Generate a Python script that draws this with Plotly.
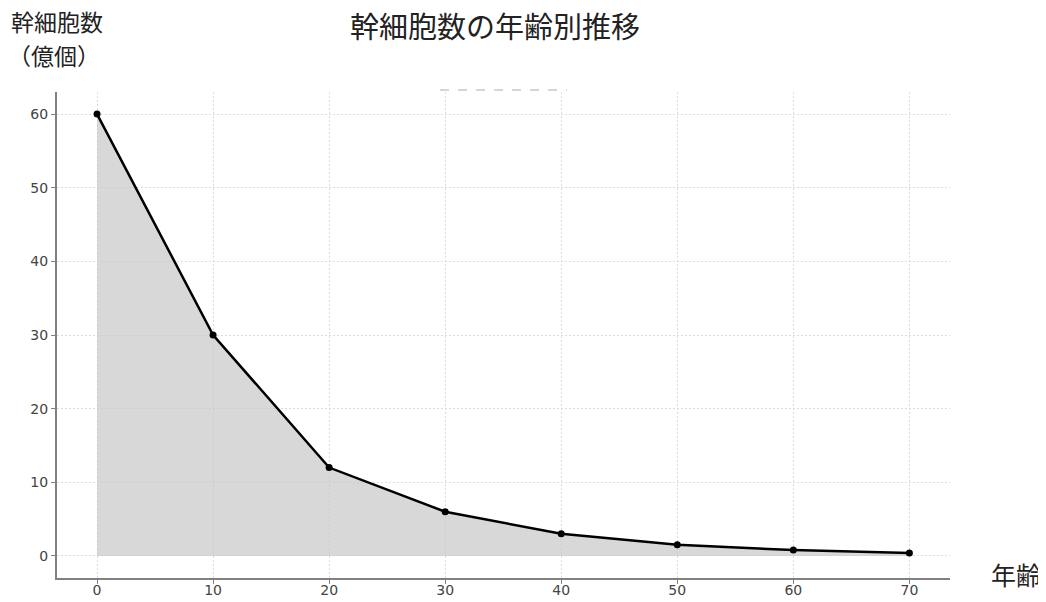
import plotly.graph_objects as go

# 年齢別の幹細胞数（億個）
ages = [0, 10, 20, 30, 40, 50, 60, 70]
stem_cells = [60, 30, 12, 6, 3, 1.5, 0.8, 0.4]
x_ticks = [0, 10, 20, 30, 40, 50, 60, 70]
y_ticks = [0, 10, 20, 30, 40, 50, 60]

JP_FONT = "Noto Sans CJK JP"

fig = go.Figure()
fig.add_trace(go.Scatter(
    x=ages, y=stem_cells,
    mode="lines+markers",
    fill="tozeroy",
    fillcolor="rgba(200,200,200,0.7)",
    line=dict(color="black", width=2.5),
    marker=dict(color="black", size=7),
    showlegend=False,
))

axis_common = dict(
    showgrid=True, gridcolor="#dcdcdc", griddash="2px,2px", gridwidth=1,
    showline=True, linecolor="#808080", linewidth=2,
    ticks="outside", ticklen=4, tickcolor="#808080",
    tickfont=dict(family="DejaVu Sans", size=14, color="#444444"),
    zeroline=False, automargin=False,
)

fig.update_xaxes(range=[-3.45, 73.5], tickvals=x_ticks, ticklabelstandoff=-6, **axis_common)
fig.update_yaxes(range=[-3.0, 63.0], tickvals=y_ticks, **axis_common)

label_font = dict(family=JP_FONT, size=23, color="#222222")

# the page body adds an 8px offset, so everything is shifted by 8px
fig.update_layout(
    width=1038, height=594,
    margin=dict(l=49, r=96, t=84, b=24),
    plot_bgcolor="white", paper_bgcolor="white",
    font=dict(family=JP_FONT),
    title=dict(text="幹細胞数の年齢別推移", x=0.4692, xanchor="center",
               y=0.967, yanchor="middle", font=dict(size=29, color="#222222")),
    annotations=[
        dict(text="幹細胞数", xref="paper", yref="paper",
             x=0.0, y=1.1455, xanchor="center", yanchor="middle",
             showarrow=False, font=label_font),
        dict(text="（億個）", xref="paper", yref="paper",
             x=-0.003, y=1.0764, xanchor="center", yanchor="middle",
             showarrow=False, font=label_font),
        dict(text="年齢", xref="paper", yref="paper",
             x=1.074, y=0.008, xanchor="center", yanchor="middle",
             showarrow=False, font=dict(family=JP_FONT, size=25, color="#222222")),
    ],
    shapes=[
        dict(type="line", xref="paper", yref="paper",
             x0=0.4289, x1=0.5711, y0=1.004, y1=1.004,
             line=dict(color="#c8c8c8", width=1.5, dash="dash")),
    ],
)

fig.write_html("out.html")
